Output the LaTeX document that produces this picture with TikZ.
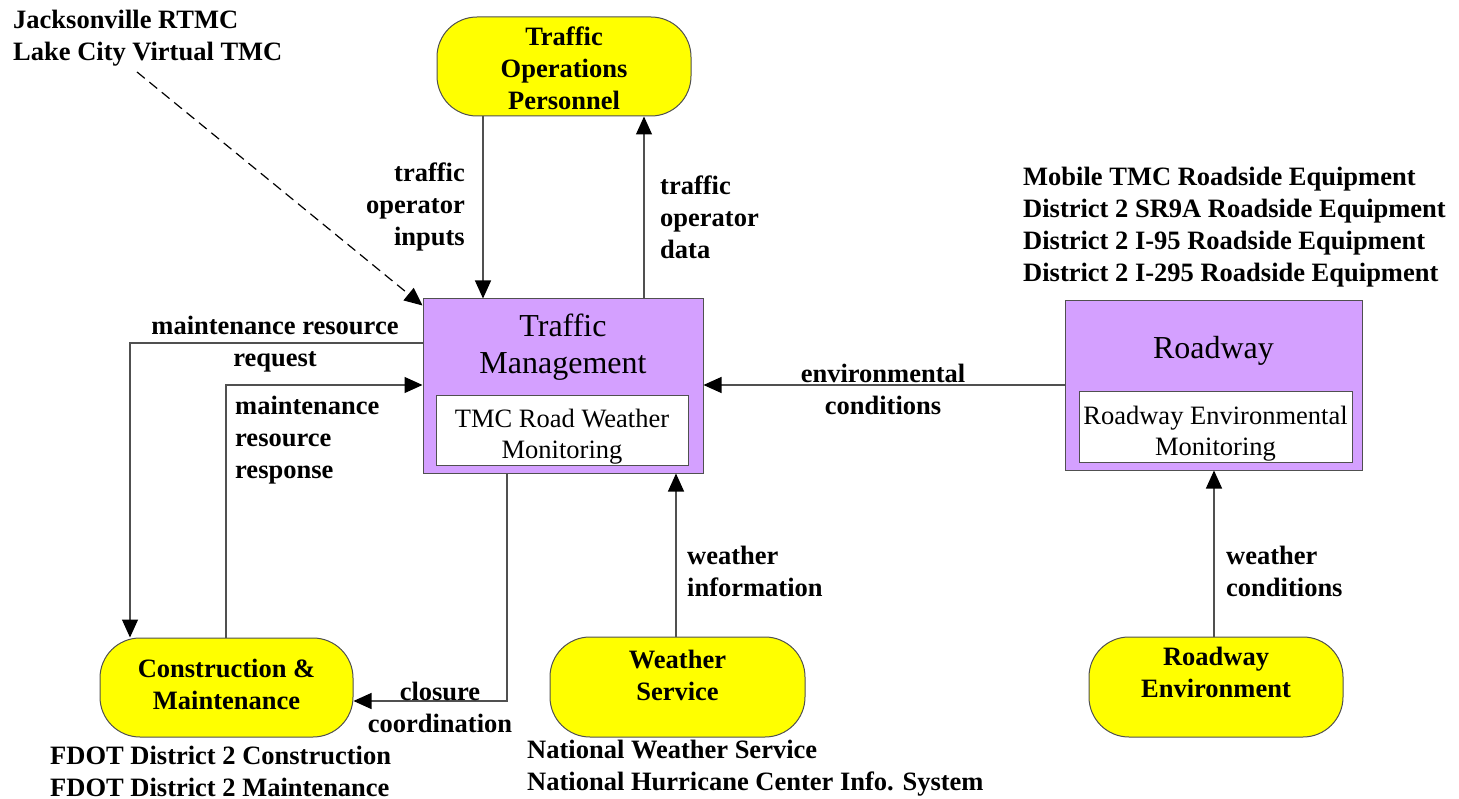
\documentclass[tikz,border=0pt]{standalone}
\usepackage{fontspec}
\setmainfont{Liberation Serif}
\usetikzlibrary{arrows.meta}
\definecolor{tmpurple}{RGB}{212,160,255}
\definecolor{lncol}{RGB}{80,80,80}
\definecolor{ylw}{RGB}{255,255,0}
\begin{document}
\begin{tikzpicture}[x=1pt,y=-1pt,
 ybox/.style={draw=lncol, line width=1pt, fill=ylw, rounded corners=40pt, inner sep=0pt},
 pbox/.style={draw=lncol, line width=1pt, fill=tmpurple, inner sep=0pt},
 wbox/.style={draw=lncol, line width=1pt, fill=white, inner sep=0pt},
 btxt/.style={font=\fontsize{26.5}{32}\selectfont\bfseries, inner sep=0pt, align=center},
 lblL/.style={font=\fontsize{26.5}{32}\selectfont\bfseries, inner sep=0pt, align=left, anchor=west},
 lblR/.style={font=\fontsize{26.5}{32}\selectfont\bfseries, inner sep=0pt, align=right, anchor=east},
 lblC/.style={font=\fontsize{26.5}{32}\selectfont\bfseries, inner sep=0pt, align=center},
 ttl/.style={font=\fontsize{32}{37}\selectfont, inner sep=0pt, align=center},
 subt/.style={font=\fontsize{26.5}{31}\selectfont, inner sep=0pt, align=center},
 conn/.style={draw=lncol, line width=1.2pt, -{Triangle[length=18pt,width=16pt,color=black]}},
]
\useasboundingbox (0,0) rectangle (1459,799);

% boxes
\node[pbox, minimum width=280pt, minimum height=174pt] (tm) at (563,386) {};
\node[wbox, minimum width=252pt, minimum height=69pt] (tmin) at (562,430.5) {};
\node[ttl] (tmt) at (563,347) {Traffic\\Management};
\node[subt] (tmint) at (562,437) {TMC Road Weather\\Monitoring};

\node[pbox, minimum width=297pt, minimum height=169pt] (rw) at (1213.5,385.5) {};
\node[wbox, minimum width=273pt, minimum height=70pt] (rwin) at (1215.5,427) {};
\node[ttl] (rwt) at (1213.5,351) {Roadway};
\node[subt] (rwint) at (1215.5,434) {Roadway Environmental\\Monitoring};

\node[ybox, minimum width=254pt, minimum height=99pt] (top) at (564,66.5) {};
\node[btxt] (topt) at (564,68) {Traffic\\Operations\\Personnel};

\node[ybox, minimum width=253pt, minimum height=99pt] (cm) at (226.5,687.5) {};
\node[btxt] (cmt) at (226.5,684) {Construction \&\\Maintenance};

\node[ybox, minimum width=255pt, minimum height=100pt] (ws) at (677.5,687) {};
\node[btxt] (wst) at (677.5,675.5) {Weather\\Service};

\node[ybox, minimum width=254pt, minimum height=100pt] (re) at (1216,687) {};
\node[btxt] (ret) at (1216,672) {Roadway\\Environment};

% annotations
\node[lblL] (jax) at (13,38) {Jacksonville RTMC\\Lake City Virtual TMC};
\node[lblL] (rweq) at (1023,227.5) {Mobile TMC Roadside Equipment\\District 2 SR9A Roadside Equipment\\District 2 I-95 Roadside Equipment\\District 2 I-295 Roadside Equipment};
\node[lblL] (fdot) at (50,771) {FDOT District 2 Construction\\FDOT District 2 Maintenance};
\node[lblL] (nws) at (527,768.5) {National Weather Service\\National Hurricane Center Info. System};

% connectors
\coordinate (dstart) at (137,72);
\draw[conn, draw=black, dash pattern=on 10pt off 6pt] (dstart) -- ([yshift=-7pt]tm.north west);

\draw[conn] (483,0 |- top.south) -- (483,0 |- tm.north);
\draw[conn] (644,0 |- tm.north) -- (644,0 |- top.south);
\draw[conn] (tm.west |- 0,343) -| (130,0 |- cm.north);
\draw[conn] (226,0 |- cm.north) |- (tm.west |- 0,385);
\draw[conn] (rw.west |- 0,385) -- (tm.east |- 0,385);
\draw[conn] (507,0 |- tm.south) |- (cm.east |- 0,701);
\draw[conn] (676,0 |- ws.north) -- (676,0 |- tm.south);
\draw[conn] (1214,0 |- re.north) -- (1214,0 |- rw.south);

% connector labels
\node[lblR] (l1) at (465,207) {traffic\\operator\\inputs};
\node[lblL] (l2) at (660,217) {traffic\\operator\\data};
\node[lblC] (l3) at (275,344) {maintenance resource\\request};
\node[lblL] (l4) at (235,440) {maintenance\\resource\\response};
\node[lblC] (l5) at (883,389) {environmental\\conditions};
\node[lblC] (l6) at (440,707) {closure\\coordination};
\node[lblL] (l7) at (687,571) {weather\\information};
\node[lblL] (l8) at (1226,571) {weather\\conditions};
\end{tikzpicture}
\end{document}
